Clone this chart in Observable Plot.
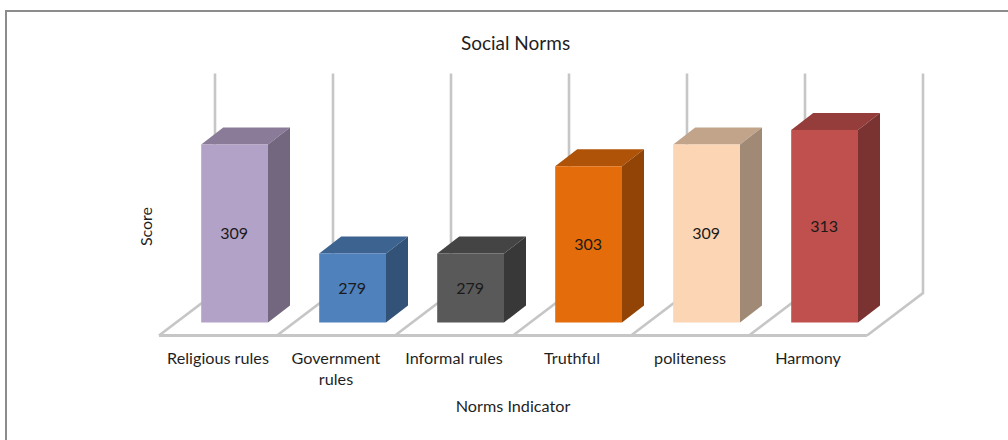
<!DOCTYPE html>
<html>
<head>
<meta charset="utf-8">
<script src="https://cdn.jsdelivr.net/npm/d3@7"></script>
<script src="https://cdn.jsdelivr.net/npm/@observablehq/plot@0.6"></script>
<style>
  html, body { margin: 0; padding: 0; background: #fff; overflow: hidden; }
  #chart { position: relative; width: 1008px; height: 440px; }
  #chart svg { display: block; }
  #border { position: absolute; left: 5px; top: 10px; right: 0; bottom: 0;
            border-left: 2.5px solid #8c8c8c; border-top: 2.5px solid #8c8c8c; pointer-events: none; }
</style>
</head>
<body>
<div id="chart"><div id="border"></div></div>
<script>
const categories = ["Religious rules", "Government\nrules", "Informal rules", "Truthful", "politeness", "Harmony"];
const scores = [309, 279, 279, 303, 309, 313];
const frontColors = ["#B3A2C7", "#4F81BD", "#595959", "#E46C0A", "#FCD5B5", "#C0504D"];
const topColors = ["#8A7C99", "#3D6391", "#444444", "#AF5308", "#C2A48B", "#943D3B"];
const sideColors = ["#72677F", "#325278", "#383838", "#914406", "#A08A76", "#7B3331"];
const yBase = 260;
const yMax = 320;

const table = categories.map((category, i) => ({
  category, score: scores[i], front: frontColors[i], top: topColors[i], side: sideColors[i]
}));

const barShift = 16.6, barLift = 13;
const depthX = 22, depthY = 17;
const floorX = 56, floorY = 42.5;
const barInset = 25.6;
const wallColor = "#c6c6c6";
const marginLeft = 158, marginTop = 104.5;

function backdrop(index, {x, y}) {
  const slot = x.bandwidth();
  const floorFront = y(yBase) + barLift;
  const wallTop = y(yMax) - 31;
  const edges = categories.map(c => x(c)).concat(x(categories[categories.length - 1]) + slot);
  const g = d3.create("svg:g").attr("fill", "none").attr("stroke", wallColor).attr("stroke-width", 2.6);
  g.append("line").attr("x1", edges[0]).attr("x2", edges[edges.length - 1])
    .attr("y1", floorFront).attr("y2", floorFront).attr("stroke-width", 3);
  edges.forEach(e => {
    g.append("path").attr("stroke-linejoin", "miter")
      .attr("d", `M${e},${floorFront}L${e + floorX},${floorFront - floorY}L${e + floorX},${wallTop}`);
  });
  return g.node();
}

function boxes(index, {x, y}) {
  const slot = x.bandwidth();
  const g = d3.create("svg:g");
  table.forEach(d => {
    const x0 = x(d.category) + barInset + barShift;
    const x1 = x(d.category) + slot - barInset + barShift;
    const y0 = y(yBase);
    const yt = y(d.score);
    g.append("path").attr("fill", d.top)
      .attr("d", `M${x0},${yt}L${x0 + depthX},${yt - depthY}L${x1 + depthX},${yt - depthY}L${x1},${yt}Z`);
    g.append("path").attr("fill", d.side)
      .attr("d", `M${x1},${yt}L${x1 + depthX},${yt - depthY}L${x1 + depthX},${y0 - depthY}L${x1},${y0}Z`);
  });
  return g.node();
}

const font = "Lato, Carlito, sans-serif";
const ink = "#1f1f1f";
const label = (text, px, py, size, extra = {}) =>
  Plot.text([text], {
    frameAnchor: "top-left", textAnchor: "middle", lineAnchor: "middle",
    dx: px - marginLeft, dy: py - marginTop, fontSize: size, fill: ink, text: d => d, ...extra
  });

const plot = Plot.plot({
  width: 1008,
  height: 440,
  marginTop,
  marginBottom: 117.5,
  marginLeft,
  marginRight: 141,
  style: {fontFamily: font, fontSize: "16px", color: ink, background: "transparent"},
  x: {type: "band", domain: categories, padding: 0, label: null},
  y: {domain: [yBase, yMax], label: null},
  marks: [
    backdrop,
    boxes,
    Plot.barY(table, {
      x: "category", y1: () => yBase, y2: "score", fill: "front",
      insetLeft: barInset, insetRight: barInset, dx: barShift
    }),
    Plot.text(table, {
      x: "category", y: d => (yBase + d.score) / 2, text: d => String(d.score),
      dx: barShift - 1, fill: "#1a1a1a", fontSize: 16
    }),
    Plot.axisX({
      anchor: "bottom", tickSize: 0, tickPadding: 26, label: null,
      lineHeight: 1.3, fontSize: 16.2, fill: ink, dx: -0.5
    }),
    Plot.axisY({ticks: [], label: null}),
    label("Social Norms", 515, 43.5, 19),
    label("Norms Indicator", 512.5, 406, 16.2),
    label("Score", 146, 226, 16, {rotate: -90})
  ]
});
document.getElementById("chart").prepend(plot);
</script>
</body>
</html>
